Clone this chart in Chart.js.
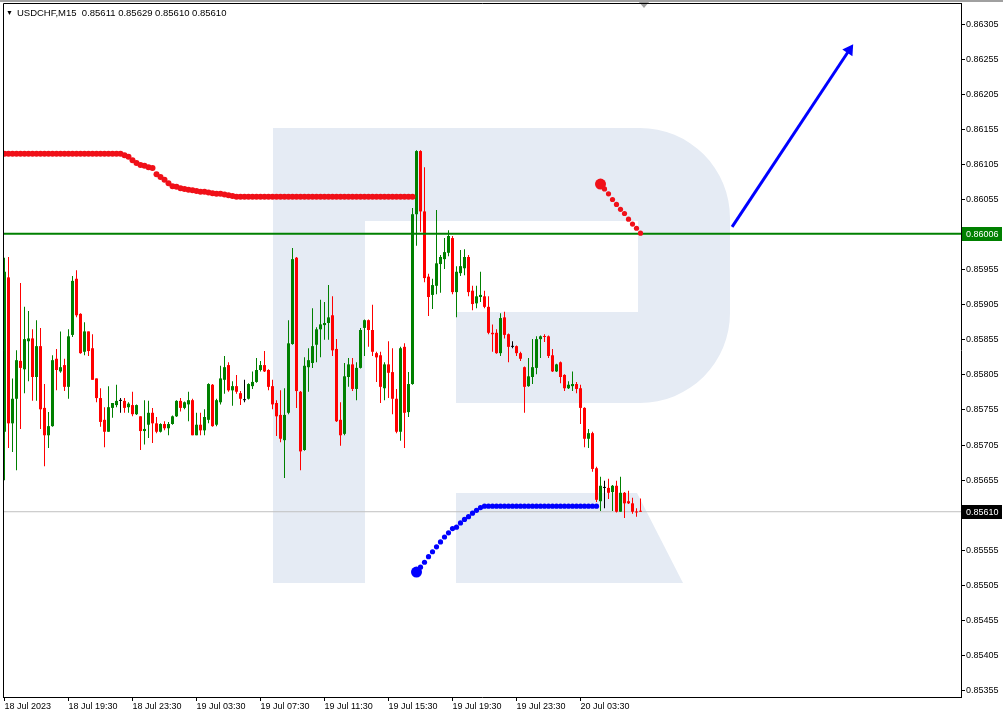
<!DOCTYPE html>
<html>
<head>
<meta charset="utf-8">
<title>USDCHF, M15</title>
<script src="https://cdn.jsdelivr.net/npm/chart.js@4.4.1/dist/chart.umd.min.js"></script>
<style>
  html, body { margin: 0; padding: 0; background: #fff; }
  #wrap { position: relative; width: 1003px; height: 715px; }
  #chart { display: block; }
  #head {
    position: absolute; left: 6px; top: 7px;
    font: 9.5px "Liberation Sans", Arial, sans-serif; color: #000; white-space: pre;
  }
  #head .tri { font-size: 7px; margin-right: 4px; position: relative; top: -1px; }
</style>
</head>
<body>
<div id="wrap">
  <canvas id="chart" width="1003" height="715"></canvas>
  <div id="head"><span class="tri">▼</span>USDCHF,M15  0.85611 0.85629 0.85610 0.85610</div>
</div>
<script>
(function () {
  "use strict";

  // ── Axis labels ──
  const timeLabels = ["18 Jul 2023", "18 Jul 19:30", "18 Jul 23:30", "19 Jul 03:30", "19 Jul 07:30",
                      "19 Jul 11:30", "19 Jul 15:30", "19 Jul 19:30", "19 Jul 23:30", "20 Jul 03:30"];
  const timeTickBars = [0, 16, 32, 48, 64, 80, 96, 112, 128, 144];
  const priceTicks = [0.85355, 0.85405, 0.85455, 0.85505, 0.85555, 0.85605, 0.85655, 0.85705, 0.85755, 0.85805,
                      0.85855, 0.85905, 0.85955, 0.86005, 0.86055, 0.86105, 0.86155, 0.86205, 0.86255, 0.86305];

  // ── M15 candles ──
  const opens = [
    0.85724,0.85944,0.85736,0.85771,0.85825,0.85813,0.85853,0.85857,0.85802,0.85846,
    0.85758,0.85719,0.85732,0.85828,0.85810,0.85819,0.85788,0.85862,0.85942,0.85892,
    0.85838,0.85867,0.85843,0.85800,0.85772,0.85741,0.85724,0.85758,0.85762,0.85768,
    0.85768,0.85759,0.85762,0.85749,0.85746,0.85725,0.85734,0.85751,0.85736,0.85724,
    0.85735,0.85729,0.85735,0.85746,0.85768,0.85758,0.85763,0.85769,0.85719,0.85734,
    0.85726,0.85741,0.85791,0.85734,0.85766,0.85798,0.85819,0.85783,0.85789,0.85779,
    0.85769,0.85771,0.85789,0.85795,0.85812,0.85819,0.85812,0.85789,0.85765,0.85748,
    0.85712,0.85751,0.85849,0.85972,0.85781,0.85698,0.85816,0.85822,0.85848,0.85870,
    0.85876,0.85879,0.85890,0.85842,0.85741,0.85721,0.85802,0.85820,0.85785,0.85815,
    0.85872,0.85883,0.85869,0.85836,0.85833,0.85786,0.85820,0.85809,0.85771,0.85724,
    0.85845,0.85752,0.85792,0.86034,0.86124,0.86038,0.85945,0.85919,0.85932,0.85963,
    0.85970,0.85979,0.86000,0.85923,0.85950,0.85957,0.85973,0.85925,0.85907,0.85916,
    0.85917,0.85902,0.85865,0.85865,0.85836,0.85887,0.85863,0.85845,0.85846,0.85836,
    0.85816,0.85789,0.85802,0.85815,0.85856,0.85860,0.85860,0.85833,0.85810,0.85823,
    0.85805,0.85786,0.85789,0.85792,0.85786,0.85758,0.85714,0.85722,0.85672,0.85625,
    0.85644,0.85644,0.85638,0.85647,0.85610,0.85637,0.85625,0.85622,0.85610,0.85611
  ];
  const highs = [
    0.85972,0.85973,0.85800,0.85840,0.85936,0.85902,0.85896,0.85870,0.85883,0.85872,
    0.85792,0.85752,0.85833,0.85842,0.85867,0.85828,0.85870,0.85946,0.85954,0.85893,
    0.85880,0.85867,0.85863,0.85800,0.85786,0.85759,0.85789,0.85765,0.85791,0.85772,
    0.85772,0.85766,0.85781,0.85763,0.85746,0.85769,0.85768,0.85758,0.85745,0.85736,
    0.85739,0.85738,0.85747,0.85769,0.85772,0.85767,0.85781,0.85771,0.85751,0.85751,
    0.85756,0.85793,0.85792,0.85771,0.85818,0.85832,0.85823,0.85796,0.85805,0.85782,
    0.85798,0.85793,0.85810,0.85829,0.85825,0.85839,0.85813,0.85798,0.85769,0.85783,
    0.85786,0.85883,0.85986,0.85973,0.85782,0.85830,0.85843,0.85900,0.85873,0.85912,
    0.85909,0.85933,0.85917,0.85856,0.85766,0.85822,0.85829,0.85829,0.85823,0.85872,
    0.85884,0.85884,0.85905,0.85838,0.85838,0.85823,0.85853,0.85843,0.85785,0.85845,
    0.85850,0.85809,0.86043,0.86125,0.86125,0.86101,0.85949,0.85942,0.86040,0.85976,
    0.86000,0.86011,0.86003,0.85960,0.85983,0.85984,0.85976,0.85932,0.85932,0.85952,
    0.85925,0.85917,0.85877,0.85870,0.85893,0.85895,0.85864,0.85853,0.85847,0.85838,
    0.85817,0.85829,0.85856,0.85860,0.85861,0.85863,0.85861,0.85842,0.85821,0.85824,
    0.85806,0.85796,0.85810,0.85795,0.85791,0.85759,0.85728,0.85724,0.85674,0.85660,
    0.85654,0.85657,0.85648,0.85654,0.85660,0.85638,0.85640,0.85630,0.85615,0.85629
  ];
  const lows = [
    0.85655,0.85701,0.85695,0.85669,0.85728,0.85779,0.85796,0.85768,0.85768,0.85728,
    0.85675,0.85701,0.85731,0.85783,0.85808,0.85782,0.85771,0.85859,0.85887,0.85835,
    0.85833,0.85832,0.85798,0.85766,0.85731,0.85702,0.85724,0.85744,0.85759,0.85751,
    0.85751,0.85751,0.85746,0.85748,0.85698,0.85706,0.85715,0.85708,0.85722,0.85723,
    0.85726,0.85719,0.85734,0.85745,0.85753,0.85756,0.85739,0.85719,0.85719,0.85719,
    0.85719,0.85736,0.85731,0.85732,0.85763,0.85778,0.85781,0.85761,0.85778,0.85762,
    0.85766,0.85770,0.85785,0.85794,0.85810,0.85809,0.85783,0.85756,0.85718,0.85709,
    0.85658,0.85749,0.85848,0.85758,0.85669,0.85697,0.85781,0.85815,0.85823,0.85830,
    0.85855,0.85855,0.85832,0.85738,0.85704,0.85719,0.85788,0.85782,0.85769,0.85814,
    0.85832,0.85845,0.85832,0.85795,0.85765,0.85769,0.85772,0.85749,0.85722,0.85711,
    0.85701,0.85745,0.85791,0.85989,0.86009,0.85937,0.85889,0.85899,0.85920,0.85922,
    0.85956,0.85974,0.85920,0.85887,0.85946,0.85947,0.85917,0.85897,0.85900,0.85909,
    0.85900,0.85863,0.85838,0.85835,0.85832,0.85857,0.85823,0.85843,0.85832,0.85825,
    0.85751,0.85788,0.85792,0.85806,0.85829,0.85852,0.85829,0.85809,0.85809,0.85793,
    0.85782,0.85785,0.85782,0.85779,0.85735,0.85702,0.85701,0.85667,0.85624,0.85611,
    0.85615,0.85628,0.85611,0.85609,0.85610,0.85601,0.85621,0.85607,0.85603,0.85610
  ];
  const closes = [
    0.85952,0.85736,0.85771,0.85826,0.85815,0.85856,0.85857,0.85802,0.85846,0.85756,
    0.85719,0.85732,0.85826,0.85812,0.85816,0.85788,0.85860,0.85939,0.85890,0.85836,
    0.85867,0.85839,0.85798,0.85772,0.85738,0.85724,0.85759,0.85765,0.85768,0.85768,
    0.85758,0.85764,0.85749,0.85762,0.85725,0.85728,0.85751,0.85736,0.85724,0.85735,
    0.85729,0.85735,0.85746,0.85768,0.85758,0.85766,0.85769,0.85719,0.85734,0.85726,
    0.85745,0.85792,0.85732,0.85769,0.85800,0.85816,0.85783,0.85789,0.85781,0.85771,
    0.85769,0.85792,0.85795,0.85812,0.85819,0.85810,0.85788,0.85763,0.85746,0.85714,
    0.85748,0.85850,0.85970,0.85782,0.85696,0.85818,0.85826,0.85846,0.85870,0.85877,
    0.85879,0.85887,0.85840,0.85739,0.85719,0.85803,0.85820,0.85785,0.85815,0.85869,
    0.85883,0.85869,0.85838,0.85830,0.85788,0.85820,0.85808,0.85771,0.85724,0.85843,
    0.85751,0.85792,0.86034,0.86124,0.86038,0.85943,0.85916,0.85933,0.85964,0.85973,
    0.85980,0.86003,0.85923,0.85952,0.85960,0.85973,0.85923,0.85906,0.85917,0.85919,
    0.85902,0.85865,0.85863,0.85836,0.85886,0.85862,0.85845,0.85845,0.85836,0.85828,
    0.85788,0.85803,0.85816,0.85856,0.85860,0.85859,0.85832,0.85810,0.85820,0.85802,
    0.85786,0.85791,0.85792,0.85785,0.85758,0.85714,0.85722,0.85671,0.85627,0.85647,
    0.85644,0.85637,0.85647,0.85610,0.85637,0.85622,0.85622,0.85610,0.85609,0.85610
  ];

  // ── Drawn objects (dotted indicator lines, arrow, levels) ──
  const redLevelFrom = 0;
  const redLevel = [
    0.86120,0.86120,0.86120,0.86120,0.86120,0.86120,0.86120,0.86120,0.86120,0.86120,
    0.86120,0.86120,0.86120,0.86120,0.86120,0.86120,0.86120,0.86120,0.86120,0.86120,
    0.86120,0.86120,0.86120,0.86120,0.86120,0.86120,0.86120,0.86120,0.86120,0.86120,
    0.86118,0.86116,0.86111,0.86107,0.86104,0.86103,0.86101,0.86100,0.86091,0.86087,
    0.86083,0.86078,0.86074,0.86073,0.86071,0.86070,0.86069,0.86068,0.86067,0.86066,
    0.86066,0.86065,0.86064,0.86063,0.86063,0.86062,0.86061,0.86060,0.86059,0.86059,
    0.86059,0.86059,0.86059,0.86059,0.86059,0.86059,0.86059,0.86059,0.86059,0.86059,
    0.86059,0.86059,0.86059,0.86059,0.86059,0.86059,0.86059,0.86059,0.86059,0.86059,
    0.86059,0.86059,0.86059,0.86059,0.86059,0.86059,0.86059,0.86059,0.86059,0.86059,
    0.86059,0.86059,0.86059,0.86059,0.86059,0.86059,0.86059,0.86059,0.86059,0.86059,
    0.86059,0.86059,0.86059
  ];
  const redSlopeFrom = 149;
  const redSlope = [0.86077, 0.86070, 0.86063, 0.86055, 0.86048, 0.86041, 0.86035, 0.86027, 0.86020, 0.86014, 0.86007];
  const blueLevelFrom = 103;
  const blueLevel = [
    0.85524,0.85531,0.85538,0.85546,0.85553,0.85560,0.85567,0.85574,0.85580,0.85586,
    0.85588,0.85594,0.85599,0.85603,0.85608,0.85612,0.85616,0.85618,0.85618,0.85618,
    0.85618,0.85618,0.85618,0.85618,0.85618,0.85618,0.85618,0.85618,0.85618,0.85618,
    0.85618,0.85618,0.85618,0.85618,0.85618,0.85618,0.85618,0.85618,0.85618,0.85618,
    0.85618,0.85618,0.85618,0.85618,0.85618,0.85618
  ];
  const arrowX = [181.9, 211.2];
  const arrowY = [0.86016, 0.86268];
  const levelPrice = 0.86006;
  const bidPrice = 0.85610;

  // ── View window ──
  const X_MIN = -0.375, X_MAX = 239.125;
  const Y_MIN = 0.85346, Y_MAX = 0.86335;

  const UP = "#008000", DOWN = "#ff0000", DOJI = "#000000";
  const FONT = { family: "'Liberation Sans', Arial, sans-serif", size: 9 };

  function candleColor(i) {
    if (closes[i] > opens[i]) return UP;
    if (closes[i] < opens[i]) return DOWN;
    return DOJI;
  }

  function series(values, from) {
    return values.map((v, k) => ({ x: from + k, y: v }));
  }

  // scales must not push the plot area in for label overhang
  function noPadding(s) {
    s.paddingLeft = 0; s.paddingRight = 0; s.paddingTop = 0; s.paddingBottom = 0;
  }

  // ── Plugins: watermark logo behind, frame + price boxes on top ──
  const watermark = {
    id: "watermark",
    beforeDatasetsDraw(chart) {
      const ctx = chart.ctx;
      ctx.save();
      ctx.fillStyle = "#e5ebf4";
      ctx.fillRect(273, 128, 92, 455);
      ctx.beginPath();
      ctx.moveTo(365, 128);
      ctx.lineTo(640, 128);
      ctx.arcTo(730, 128, 730, 218, 90);
      ctx.lineTo(730, 313);
      ctx.arcTo(730, 403, 640, 403, 90);
      ctx.lineTo(456, 403);
      ctx.lineTo(456, 312);
      ctx.lineTo(638, 312);
      ctx.lineTo(638, 221);
      ctx.lineTo(365, 221);
      ctx.closePath();
      ctx.fill();
      ctx.beginPath();
      ctx.moveTo(456, 493);
      ctx.lineTo(637, 493);
      ctx.lineTo(683, 583);
      ctx.lineTo(456, 583);
      ctx.closePath();
      ctx.fill();
      ctx.restore();
    }
  };

  const frame = {
    id: "frame",
    afterDraw(chart) {
      const ctx = chart.ctx;
      const a = chart.chartArea;
      const y = chart.scales.y;
      ctx.save();
      ctx.fillStyle = "#a0a0a0";
      ctx.fillRect(0, 0, chart.width, 2);
      ctx.beginPath();
      ctx.moveTo(638, 1); ctx.lineTo(650, 1); ctx.lineTo(644, 8); ctx.closePath();
      ctx.fill();

      ctx.strokeStyle = "#000";
      ctx.lineWidth = 1;
      ctx.beginPath();
      ctx.moveTo(a.left + 0.5, a.bottom);
      ctx.lineTo(a.left + 0.5, a.top + 0.5);
      ctx.lineTo(a.right, a.top + 0.5);
      ctx.stroke();

      ctx.font = "9px 'Liberation Sans', Arial, sans-serif";
      ctx.textBaseline = "middle";
      ctx.textAlign = "left";
      [[levelPrice, UP], [bidPrice, "#000"]].forEach(([p, bg]) => {
        const py = Math.round(y.getPixelForValue(p));
        ctx.fillStyle = bg;
        ctx.fillRect(a.right + 1, py - 7, 40, 14);
        ctx.fillStyle = "#fff";
        ctx.fillText(p.toFixed(5), a.right + 5, py + 0.5);
      });
      ctx.restore();
    }
  };

  // ── Chart ──
  new Chart(document.getElementById("chart"), {
    type: "bar",
    data: {
      datasets: [
        {
          type: "line", label: "arrow",
          data: arrowX.map((x, k) => ({ x, y: arrowY[k] })),
          borderColor: "#0000ff", borderWidth: 3,
          pointStyle: "triangle", pointRadius: [0, 7], pointRotation: [0, 33.5],
          pointBackgroundColor: "#0000ff", pointBorderWidth: 0,
          order: 1
        },
        {
          type: "line", label: "redSlope",
          data: series(redSlope, redSlopeFrom),
          showLine: false,
          pointRadius: c => c.dataIndex === 0 ? 5.5 : 2.6,
          pointBackgroundColor: "#f01018", pointBorderWidth: 0,
          order: 2
        },
        {
          type: "line", label: "blueLevel",
          data: series(blueLevel, blueLevelFrom),
          showLine: false,
          pointRadius: c => c.dataIndex === 0 ? 5.5 : 2.6,
          pointBackgroundColor: "#0000ff", pointBorderWidth: 0,
          order: 2
        },
        {
          type: "line", label: "redLevel",
          data: series(redLevel, redLevelFrom),
          showLine: false,
          pointRadius: 3,
          pointBackgroundColor: "#f01018", pointBorderWidth: 0,
          order: 2
        },
        {
          type: "line", label: "level",
          data: [{ x: X_MIN, y: levelPrice }, { x: X_MAX, y: levelPrice }],
          borderColor: UP, borderWidth: 2, pointRadius: 0,
          order: 3
        },
        {
          type: "bar", label: "bodies",
          data: opens.map((o, i) => ({ x: i, y: [o, closes[i]] })),
          backgroundColor: c => candleColor(c.dataIndex),
          borderWidth: 0, inflateAmount: 0, minBarLength: 1,
          grouped: false, categoryPercentage: 1, barPercentage: 0.75,
          order: 4
        },
        {
          type: "bar", label: "wicks",
          data: opens.map((o, i) => ({ x: i, y: [lows[i], highs[i]] })),
          backgroundColor: c => candleColor(c.dataIndex),
          borderWidth: 0, inflateAmount: 0,
          grouped: false, categoryPercentage: 1, barPercentage: 0.25,
          order: 5
        },
        {
          type: "line", label: "bid",
          data: [{ x: X_MIN, y: bidPrice }, { x: X_MAX, y: bidPrice }],
          borderColor: "#c0c0c0", borderWidth: 1, pointRadius: 0,
          order: 6
        }
      ]
    },
    options: {
      responsive: false,
      animation: false,
      events: [],
      devicePixelRatio: 1,
      layout: { autoPadding: false, padding: { left: 3, top: 3, right: 0, bottom: 0 } },
      plugins: { legend: { display: false }, tooltip: { enabled: false } },
      scales: {
        x: {
          type: "linear", min: X_MIN, max: X_MAX, offset: false,
          grid: { drawOnChartArea: false, offset: false, color: "#000", tickLength: 4 },
          border: { display: true, color: "#000" },
          afterBuildTicks: s => { s.ticks = timeTickBars.map(v => ({ value: v })); },
          afterFit: s => { s.height = 18; noPadding(s); },
          ticks: {
            autoSkip: false, maxRotation: 0, align: "start", padding: 0,
            color: "#000", font: FONT,
            callback: (v, i) => timeLabels[i]
          }
        },
        y: {
          type: "linear", position: "right", min: Y_MIN, max: Y_MAX, beginAtZero: false,
          grid: { drawOnChartArea: false, color: "#000", tickLength: 4 },
          border: { display: true, color: "#000" },
          afterBuildTicks: s => { s.ticks = priceTicks.map(v => ({ value: v })); },
          afterFit: s => { s.width = 42; noPadding(s); },
          ticks: {
            padding: 1, color: "#000", font: FONT,
            callback: v => Number(v).toFixed(5)
          }
        }
      }
    },
    plugins: [watermark, frame]
  });
})();
</script>
</body>
</html>
